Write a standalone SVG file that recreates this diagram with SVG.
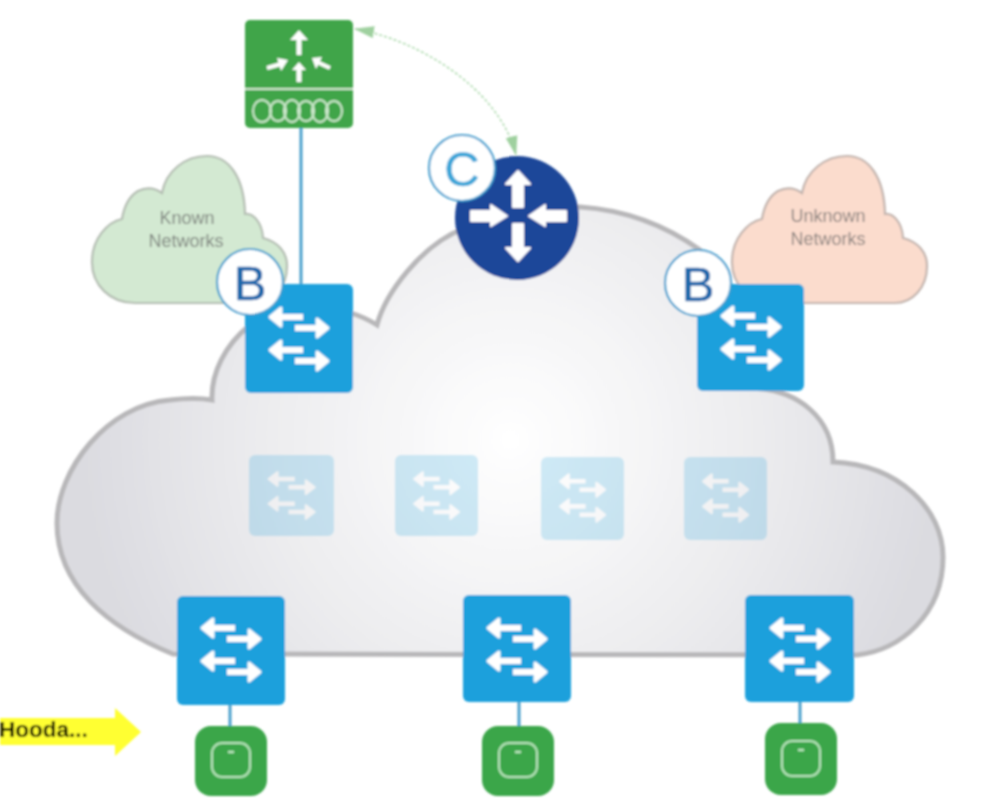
<svg xmlns="http://www.w3.org/2000/svg" xmlns:xlink="http://www.w3.org/1999/xlink" width="1006" height="804" viewBox="0 0 1006 804">
<style>
.lbl{font-family:"Liberation Sans",Arial,sans-serif;font-size:18px;text-anchor:middle;fill:#7f857f;stroke:none}
.badge{fill:#fff;stroke:#3f9fcf;stroke-width:2.2}
.bt{font-family:"Liberation Sans",Arial,sans-serif;font-size:49px;text-anchor:middle;stroke-width:.5}
.sw{fill:#1ba0dc}
.arr{fill:none;stroke:#fff;stroke-width:6}
.arh{fill:#fff;stroke:#fff;stroke-width:3;stroke-linejoin:round}
.link{stroke:#4aa0cc;stroke-width:3;fill:none}
.ap{fill:#3aa648}
.apin{fill:none;stroke:#b9e6bd;stroke-width:2}
</style>
<defs>
<filter id="soft" x="-5%" y="-5%" width="110%" height="110%"><feGaussianBlur stdDeviation="1"/></filter>
<radialGradient id="cg" gradientUnits="userSpaceOnUse" cx="510" cy="440" r="430">
<stop offset="0" stop-color="#ffffff"/><stop offset=".5" stop-color="#efeff1"/><stop offset="1" stop-color="#dbdbe0"/>
</radialGradient>
<marker id="ah" viewBox="0 0 20 12" refX="19" refY="6" markerWidth="20" markerHeight="12" markerUnits="userSpaceOnUse" orient="auto-start-reverse">
<path d="M0 0L20 6L0 12Z" fill="#9fd09f"/>
</marker>
<path id="cl" d="M775 303C750 303 732 285 732 262C732 238 748 222 762 219C764 207 768 197 778 191C786 187 795 188 802 193C806 171 825 156 847 156C868 156 884 176 885 214C893 213 902 222 903 238C918 242 927 252 927 266C927 288 912 303 895 303Z"/>
<g id="swi">
<path class="arr" d="M36 32H58M50 43H72M36 65H58M50 76H72"/>
<path class="arh" d="M25 32L36 23V41ZM83 43L72 34V52ZM25 65L36 56V74ZM83 76L72 67V85Z"/>
</g>
</defs>
<g filter="url(#soft)">
<g id="big-cloud"><path d="M173 654C107 627 57 585 57 523C57 470 107 405 170 400Q195 397 212 400C211 373 225 345 250 325C300 300 345 305 377 325C385 295 420 245 465 228C500 212 540 205 580 207C625 210 665 225 700 250C728 275 745 330 747 388C800 388 833 420 833 462C900 465 943 510 943 557C943 615 900 650 857 655Z" fill="url(#cg)" stroke="#b8b7b9" stroke-width="5"/></g>
<g id="known-cloud"><use xlink:href="#cl" href="#cl" transform="translate(-640 0)" fill="#d3e9d2" stroke="#b4bdb2" stroke-width="2.2"/><text class="lbl" x="187" y="224">Known</text><text class="lbl" x="186" y="247">Networks</text></g>
<g id="unknown-cloud"><use xlink:href="#cl" href="#cl" fill="#fbdccd" stroke="#c2b4ae" stroke-width="2.2"/><text class="lbl" x="828" y="222" style="fill:#8d8480">Unknown</text><text class="lbl" x="828" y="245" style="fill:#8d8480">Networks</text></g>
<g id="connectors">
<path class="link" d="M301 127V285M230 705V727M519 702V727M800 702V724"/>
<path d="M355 29C420 40 500 90 516 155" fill="none" stroke="#a9d8a9" stroke-width="1.5" stroke-dasharray="3 2" marker-start="url(#ah)" marker-end="url(#ah)"/>
</g>
<g id="fab-1" opacity=".2"><rect class="sw" x="249" y="455" width="85" height="81" rx="6"/><use href="#swi" transform="translate(249 455) scale(.79 .75)"/></g>
<g id="fab-2" opacity=".2"><rect class="sw" x="395" y="455" width="83" height="81" rx="6"/><use href="#swi" transform="translate(395 455) scale(.77 .75)"/></g>
<g id="fab-3" opacity=".2"><rect class="sw" x="541" y="457" width="83" height="83" rx="6"/><use href="#swi" transform="translate(541 457) scale(.77 .76)"/></g>
<g id="fab-4" opacity=".2"><rect class="sw" x="684" y="457" width="83" height="83" rx="6"/><use href="#swi" transform="translate(684 457) scale(.77 .76)"/></g>
<g id="control"><rect x="245" y="20" width="108" height="108" rx="5" fill="#3fa548"/><path d="M245 89H353" stroke="#cfe9cf" stroke-width="2"/>
<path d="M299 38V55M299 70V82" stroke="#fff" stroke-width="5" fill="none"/><path d="M290 40L299 30L308 40Z" fill="#fff"/><path d="M292 70L299 62L306 70Z" fill="#fff"/>
<path d="M267 68L281 64" stroke="#fff" stroke-width="4"/><path d="M277 58L288 60L281 71Z" fill="#fff"/>
<path d="M330 68L317 62" stroke="#fff" stroke-width="4"/><path d="M312 58L322 57L316 69Z" fill="#fff"/>
<g fill="none" stroke="#cde9cd" stroke-width="2"><ellipse cx="262" cy="111" rx="9" ry="11"/><ellipse cx="278" cy="111" rx="8" ry="10"/><ellipse cx="292" cy="111" rx="8" ry="11"/><ellipse cx="306" cy="111" rx="8" ry="10"/><ellipse cx="320" cy="111" rx="8" ry="11"/><ellipse cx="334" cy="111" rx="8" ry="10"/></g></g>
<g id="router"><circle cx="517" cy="218" r="62" fill="#1f4699"/>
<g fill="#fff" stroke="#fff" stroke-width="2" stroke-linejoin="round"><rect x="513" y="184" width="10" height="23"/><path d="M506 184L518 171L530 184Z"/><rect x="513" y="224" width="10" height="24"/><path d="M506 248L518 261L530 248Z"/><rect x="471" y="211" width="20" height="10"/><path d="M491 205L507 216L491 226Z"/><rect x="545" y="211" width="21" height="10"/><path d="M545 205L529 216L545 226Z"/></g></g>
<g id="sw-b1"><rect class="sw" x="245" y="284" width="108" height="109" rx="6"/><use href="#swi" transform="translate(245 285)"/></g>
<g id="sw-b2"><rect class="sw" x="697" y="284" width="107" height="107" rx="6"/><use href="#swi" transform="translate(697 284)"/></g>
<g id="sw-e1"><rect class="sw" x="177" y="596" width="108" height="109" rx="6"/><use href="#swi" transform="translate(177 596)"/></g>
<g id="sw-e2"><rect class="sw" x="463" y="595" width="108" height="107" rx="6"/><use href="#swi" transform="translate(463 596)"/></g>
<g id="sw-e3"><rect class="sw" x="745" y="595" width="109" height="107" rx="6"/><use href="#swi" transform="translate(746 596)"/></g>
<g id="ap-1"><rect class="ap" x="195" y="726" width="72" height="70" rx="16"/><rect class="apin" x="212" y="743" width="38" height="34" rx="10"/><path d="M228 752H234" stroke="#b9e6bd" stroke-width="2.5"/></g>
<g id="ap-2"><rect class="ap" x="482" y="726" width="72" height="70" rx="16"/><rect class="apin" x="499" y="743" width="38" height="34" rx="10"/><path d="M515 752H521" stroke="#b9e6bd" stroke-width="2.5"/></g>
<g id="ap-3"><rect class="ap" x="765" y="723" width="72" height="72" rx="16"/><rect class="apin" x="782" y="741" width="38" height="35" rx="10"/><path d="M798 750H804" stroke="#b9e6bd" stroke-width="2.5"/></g>
<g id="badge-c"><circle class="badge" cx="462" cy="168" r="33"/><text class="bt" x="462" y="186" fill="#3ea6d8" stroke="#3ea6d8">C</text></g>
<g id="badge-b1"><circle class="badge" cx="250" cy="282" r="33"/><text class="bt" x="250" y="300" fill="#1f68ab" stroke="#1f68ab">B</text></g>
<g id="badge-b2"><circle class="badge" cx="698" cy="283" r="33"/><text class="bt" x="698" y="301" fill="#1f68ab" stroke="#1f68ab">B</text></g>
<g id="note"><path d="M0 718H115V708L141 732L115 756V745H0Z" fill="#ffff33"/><text x="-1" y="737" font-family="'Liberation Sans',Arial,sans-serif" font-size="22.5" font-weight="bold" fill="#000">Hooda...</text></g>
</g>
</svg>
